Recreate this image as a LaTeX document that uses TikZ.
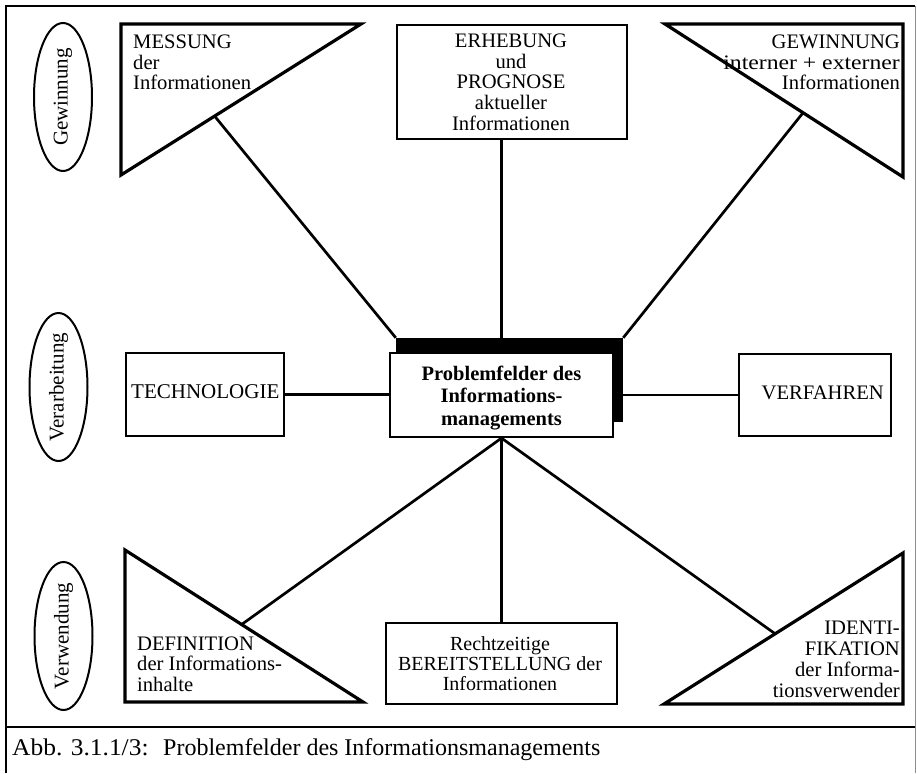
\documentclass[tikz,border=0pt]{standalone}
\usepackage{fontspec}
\setmainfont{Liberation Serif}
\usetikzlibrary{shapes.geometric,backgrounds}

\tikzset{
  lbl/.style={inner sep=0pt, font=\fontsize{20.6}{20.5}\selectfont},
  tri/.style={line width=3.2pt, line join=miter},
  boxnode/.style={draw, line width=2.2pt, inner sep=0pt, anchor=north west},
  conn/.style={line width=2.7pt},
  phase/.style={draw, ellipse, line width=2pt, inner sep=0pt,
                minimum width=58pt, minimum height=148pt},
  phasetext/.style={inner sep=0pt, rotate=90, font=\fontsize{21}{21}\selectfont},
  frame/.style={line width=2.2pt}
}

\begin{document}
\begin{tikzpicture}[x=1pt, y=-1pt]
\useasboundingbox (0,0) rectangle (917,773);

% outer frame and caption rule
\draw[frame] (6,773) -- (6,6) -- (915,6);
\draw[line width=1pt, black!45] (915,6) -- (915,773);
\draw[frame] (6,727) -- (915,727);

% phases
\node[phase] (gew) at (63,97) {};
\node[phasetext] (gewt) at (gew.center) {Gewinnung};
\node[phase] (verarb) at (58.5,387) {};
\node[phasetext] (verarbt) at (verarb.center) {Verarbeitung};
\node[phase] (verw) at (63.5,636) {};
\node[phasetext] (verwt) at (verw.center) {Verwendung};

% triangle: MESSUNG
\coordinate (m1) at (121,24);
\coordinate (m2) at (361,24);
\coordinate (m3) at (121,175);
\draw[tri] (m1) -- (m2) -- (m3) -- cycle;
\path (m2) -- (m3) coordinate[pos=0.61] (mh);
\node[lbl, anchor=base west, align=left] (messt) at (133,90)
  {MESSUNG\\der\\Informationen};

% box: ERHEBUNG und PROGNOSE
\node[boxnode, minimum width=230pt, minimum height=114pt] (erh) at (396,24) {};
\node[lbl, anchor=base, align=center] (erht) at (511,130)
  {ERHEBUNG\\und\\PROGNOSE\\aktueller\\Informationen};

% triangle: GEWINNUNG
\coordinate (g1) at (665,24);
\coordinate (g2) at (903,24);
\coordinate (g3) at (903,177);
\draw[tri] (g1) -- (g2) -- (g3) -- cycle;
\path (g1) -- (g3) coordinate[pos=0.58] (gh);
\node[lbl, anchor=base east, align=right] (gewinnt) at (900,90)
  {GEWINNUNG\\\scalebox{1.15}[1]{interner + externer}\\Informationen};

% central box with offset shadow
\node[fill=black, inner sep=0pt, minimum width=227pt, minimum height=84pt] (shadow) at (509.5,380) {};
\node[draw, fill=white, line width=2.2pt, inner sep=0pt,
      minimum width=223pt, minimum height=84pt] (prob) at (501.5,395) {};
\node[inner sep=0pt, anchor=base, align=center,
      font=\fontsize{20.5}{22.5}\selectfont\bfseries] (probt) at (501.5,425)
  {Problemfelder des\\Informations-\\managements};

% side boxes
\node[boxnode, minimum width=158pt, minimum height=83pt] (tech) at (125,352) {};
\node[lbl, anchor=base west, font=\fontsize{21}{21}\selectfont] (techt) at (131,398) {TECHNOLOGIE};
\node[boxnode, minimum width=152pt, minimum height=82pt] (verf) at (738,353) {};
\node[lbl, anchor=base east] (verft) at (884,399) {VERFAHREN};

% triangle: DEFINITION
\coordinate (d1) at (125,550);
\coordinate (d2) at (125,702);
\coordinate (d3) at (363,702);
\draw[tri] (d1) -- (d2) -- (d3) -- cycle;
\path (d1) -- (d3) coordinate[pos=0.49] (dh);
\node[lbl, anchor=base west, align=left] (deft) at (137,691)
  {DEFINITION\\der Informations-\\inhalte};

% box: BEREITSTELLUNG
\node[boxnode, minimum width=231pt, minimum height=81pt] (recht) at (385,622) {};
\node[lbl, anchor=base, align=center, font=\fontsize{20}{20}\selectfont] (rechtt) at (500,690)
  {Rechtzeitige\\BEREITSTELLUNG der\\Informationen};

% triangle: IDENTIFIKATION
\coordinate (i1) at (664,704);
\coordinate (i2) at (903,704);
\coordinate (i3) at (903,553);
\draw[tri] (i1) -- (i2) -- (i3) -- cycle;
\path (i1) -- (i3) coordinate[pos=0.465] (ih);
\node[inner sep=0pt, anchor=base east, align=right,
      font=\fontsize{20.6}{20.7}\selectfont] (identt) at (900,697)
  {IDENTI-\\FIKATION\\der Informa-\\tionsverwender};

% connectors
\begin{scope}[on background layer]
  \draw[conn] (mh) -- (shadow.north west);
  \draw[conn] (erh.south -| prob.center) -- (prob.center);
  \draw[conn] (gh) -- (shadow.north east);
  \draw[conn] (tech.east) -- (tech.east -| prob.center);
  \draw[conn] (verf.west) -- (verf.west -| prob.center);
  \draw[conn] (prob.south) -- (dh);
  \draw[conn] (prob.south) -- (prob.south |- recht.north);
  \draw[conn] (prob.south) -- (ih);
\end{scope}

% caption
\node[inner sep=0pt, anchor=base west, font=\fontsize{24}{24}\selectfont] (capnum) at (12,755) {\scalebox{1.06}[1]{Abb. 3.1.1/3:}};
\node[inner sep=0pt, anchor=base west, font=\fontsize{24}{24}\selectfont] (captext) at (163,755) {Problemfelder des Informationsmanagements};
\end{tikzpicture}
\end{document}
